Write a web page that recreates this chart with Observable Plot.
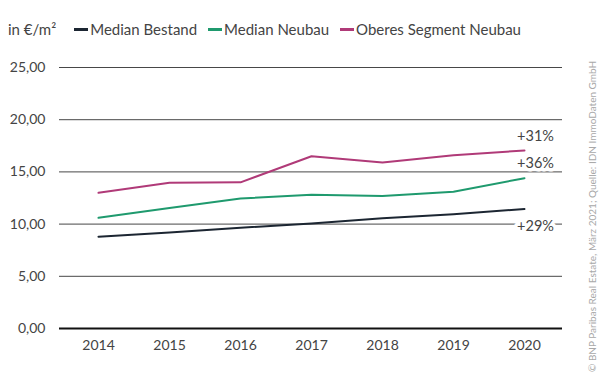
<!DOCTYPE html>
<html>
<head>
<meta charset="utf-8">
<script src="https://cdn.jsdelivr.net/npm/d3@7"></script>
<script src="https://cdn.jsdelivr.net/npm/@observablehq/plot@0.6"></script>
<style>
  html, body { margin: 0; padding: 0; background: #fff; }
  #wrap { position: relative; width: 600px; height: 383px; overflow: hidden; font-family: Lato, "Open Sans", sans-serif; }
  #legend { position: absolute; left: 8px; top: 20px; font-size: 15px; color: #444; display: flex; align-items: center; white-space: nowrap; }
  #legend .unit { margin-right: 18px; }
  #legend .item { display: flex; align-items: center; margin-right: 11px; }
  #legend .sw { width: 14px; height: 3px; margin-right: 2px; }
  #credit { position: absolute; left: 586px; top: 372px; transform-origin: 0 0; transform: rotate(-90deg); font-size: 10px; color: #a8a8a8; white-space: nowrap; font-family: Lato, "Open Sans", sans-serif; }
  #chart { position: absolute; left: 0; top: 0; }
</style>
</head>
<body>
<div id="wrap">
  <div id="chart"></div>
  <div id="legend"></div>
  <div id="credit">© BNP Paribas Real Estate, März 2021; Quelle: IDN ImmoDaten GmbH</div>
</div>
<script>
const years = ["2014", "2015", "2016", "2017", "2018", "2019", "2020"];
const seriesNames = ["Median Bestand", "Median Neubau", "Oberes Segment Neubau"];
const seriesColors = ["#1c2632", "#1f9a6e", "#b03a78"];
const medianBestand = [8.8, 9.2, 9.65, 10.05, 10.55, 10.95, 11.45];
const medianNeubau = [10.6, 11.55, 12.45, 12.8, 12.7, 13.1, 14.4];
const oberesSegment = [13.0, 13.95, 14.0, 16.5, 15.9, 16.6, 17.05];
const yTicks = [0, 5, 10, 15, 20, 25];
const changeLabels = ["+29%", "+36%", "+31%"];
const unitLabel = "in €/m²";

const seriesValues = [medianBestand, medianNeubau, oberesSegment];
const data = seriesValues.flatMap((vals, i) => vals.map((v, j) => ({series: seriesNames[i], year: years[j], value: v})));
const endLabels = seriesValues.map((vals, i) => ({series: seriesNames[i], year: years[years.length - 1], value: vals[vals.length - 1], label: changeLabels[i]}));
const labelDy = [17, -15, -14];

const fmt = d3.format(".2f");
const deFmt = v => fmt(v).replace(".", ",");

const chart = Plot.plot({
  width: 600,
  height: 383,
  marginLeft: 59,
  marginRight: 38,
  marginTop: 67,
  marginBottom: 55,
  style: {fontFamily: "Lato, 'Open Sans', sans-serif", fontSize: "14px", color: "#444", background: "transparent"},
  x: {type: "point", domain: years, padding: 0.5, label: null, tickSize: 0, tickPadding: 12},
  y: {domain: [0, 25], ticks: yTicks, tickFormat: deFmt, label: null, tickSize: 0, tickPadding: 14},
  color: {domain: seriesNames, range: seriesColors},
  marks: [
    Plot.ruleY(yTicks.filter(d => d > 0), {stroke: "#333", strokeWidth: 1, strokeOpacity: 0.9}),
    Plot.ruleY([0], {stroke: "#111", strokeWidth: 2}),
    Plot.lineY(data, {x: "year", y: "value", z: "series", stroke: "series", strokeWidth: 2}),
    ...endLabels.map((d, i) => Plot.text([d], {x: "year", y: "value", text: "label", dx: 11, dy: labelDy[i], fill: "#444", stroke: "white", strokeWidth: 7, paintOrder: "stroke", fontSize: 14.5}))
  ]
});
document.getElementById("chart").appendChild(chart);

const legend = document.getElementById("legend");
const unit = document.createElement("span");
unit.className = "unit";
unit.textContent = unitLabel;
legend.appendChild(unit);
seriesNames.forEach((name, i) => {
  const item = document.createElement("span");
  item.className = "item";
  const sw = document.createElement("span");
  sw.className = "sw";
  sw.style.background = seriesColors[i];
  const t = document.createElement("span");
  t.textContent = name;
  item.appendChild(sw);
  item.appendChild(t);
  legend.appendChild(item);
});
</script>
</body>
</html>
